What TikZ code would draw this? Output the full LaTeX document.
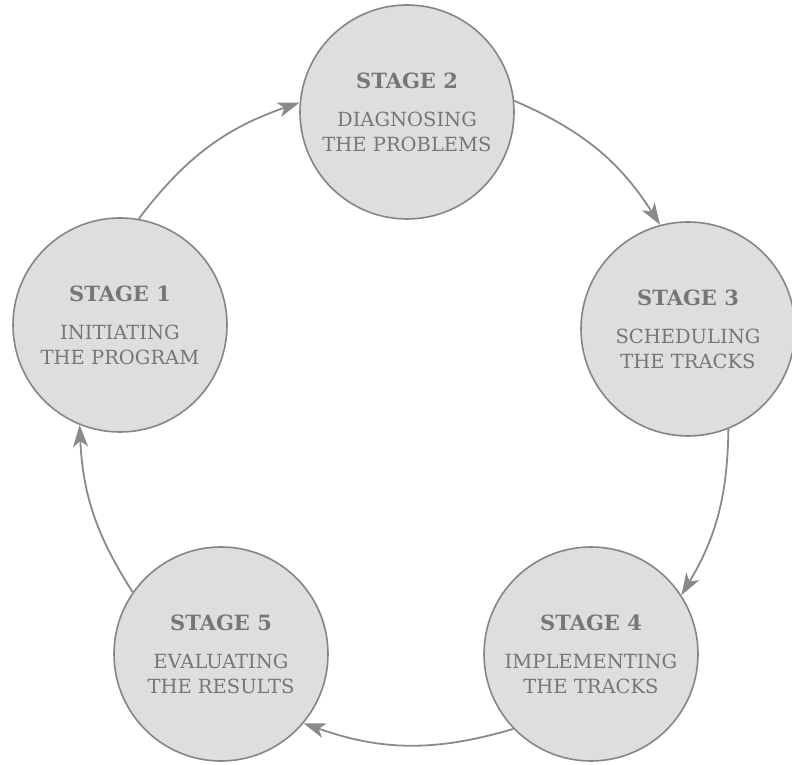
\documentclass[tikz,border=0pt]{standalone}
\usepackage{fontspec}
\setmainfont{DejaVu Serif}
\usetikzlibrary{arrows.meta}
\definecolor{stagefill}{HTML}{DEDEDE}
\definecolor{stageline}{HTML}{858585}
\definecolor{stagetext}{HTML}{767676}
\definecolor{arrowcol}{HTML}{8A8A8A}
\tikzset{
  stagenode/.style={circle, draw=stageline, line width=1.6pt, fill=stagefill,
    minimum size=214pt, inner sep=0pt, align=center, text=stagetext,
    font=\fontsize{19.5}{25}\selectfont},
  cyclearrow/.style={draw=arrowcol, line width=1.8pt,
    -{Stealth[length=22pt, width=15pt, inset=6pt]}}
}
\newcommand{\stagetxt}[3]{{\fontsize{21}{25}\selectfont\bfseries STAGE #1}\\[13pt]#2\\#3}
\begin{document}
\begin{tikzpicture}[x=1pt,y=1pt]
\useasboundingbox (0,0) rectangle (792,765);
\node[stagenode] (s1) at (120,440) {\stagetxt{1}{INITIATING}{THE PROGRAM}};
\node[stagenode] (s2) at (407,653) {\stagetxt{2}{DIAGNOSING}{THE PROBLEMS}};
\node[stagenode] (s3) at (688,436) {\stagetxt{3}{SCHEDULING}{THE TRACKS}};
\node[stagenode] (s4) at (591,111) {\stagetxt{4}{IMPLEMENTING}{THE TRACKS}};
\node[stagenode] (s5) at (221,111) {\stagetxt{5}{EVALUATING}{THE RESULTS}};
\draw[cyclearrow] (s1.80) to[bend left=17] (s2.175);
\draw[cyclearrow] (s2.6) to[bend left=17] (s3.105);
\draw[cyclearrow] (s3.-68) to[bend left=15] (s4.33);
\draw[cyclearrow] (s4.224) to[bend left=18] (s5.-40);
\draw[cyclearrow] (s5.145) to[bend left=15] (s1.248);
\end{tikzpicture}
\end{document}
